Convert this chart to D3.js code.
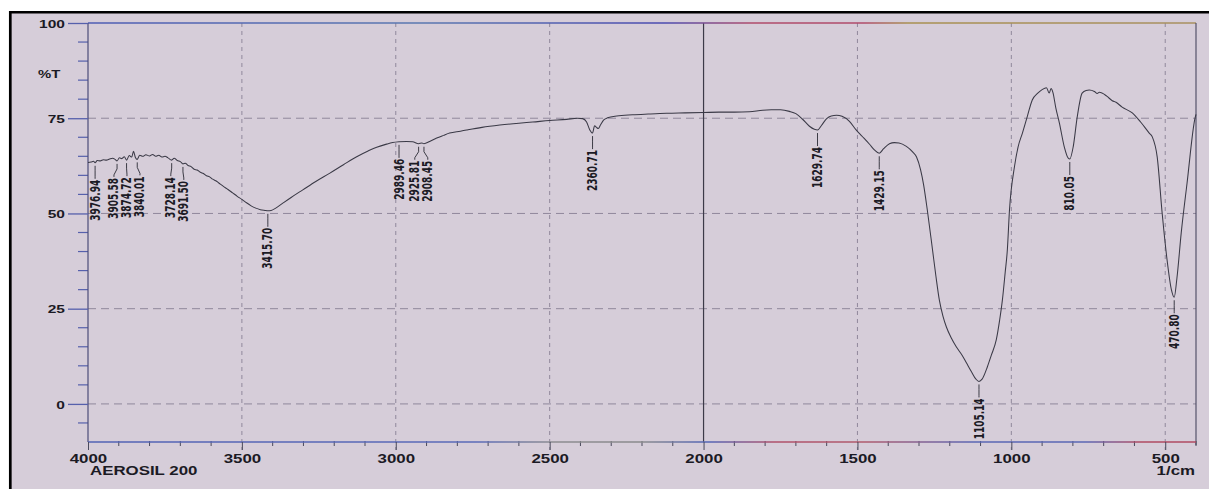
<!DOCTYPE html>
<html>
<head>
<meta charset="utf-8">
<script src="https://cdn.jsdelivr.net/npm/d3@7"></script>
<style>
  html, body { margin: 0; padding: 0; background: #ffffff; }
  svg { display: block; }
</style>
</head>
<body>
<svg id="chart" width="1209" height="489"></svg>
<script>
// FTIR spectrum of AEROSIL 200 (%T vs wavenumber, 1/cm)
const wavenumbers = [
  4000, 3990, 3982, 3976.94, 3970, 3960, 3950, 3940, 3930, 3920, 3912, 3905.58,
  3898, 3890, 3882, 3874.72, 3866, 3858, 3852, 3846, 3840.01, 3832, 3822, 3812,
  3800, 3790, 3780, 3770, 3760, 3750, 3740, 3728.14, 3720, 3710, 3700, 3691.5,
  3684, 3675, 3665, 3655, 3645, 3635, 3625, 3615, 3605, 3595, 3585, 3575,
  3560, 3545, 3530, 3515, 3500, 3485, 3470, 3455, 3440, 3425, 3415.7, 3405,
  3390, 3367, 3340, 3302, 3260, 3214, 3170, 3127, 3090, 3062, 3030, 3010,
  2989.46, 2965, 2945, 2925.81, 2915, 2908.45, 2890, 2867, 2845, 2825, 2790, 2770,
  2720, 2662, 2600, 2555, 2500, 2445, 2410, 2393, 2380, 2370, 2360.71, 2354,
  2348, 2342, 2335, 2325, 2312, 2282, 2231, 2180, 2120, 2060, 2000, 1950,
  1900, 1851, 1808, 1780, 1750, 1721, 1700, 1679, 1656, 1640, 1629.74, 1617,
  1600, 1585, 1568, 1550, 1526, 1505, 1484, 1460, 1445, 1429.15, 1415, 1396,
  1380, 1365, 1341, 1320, 1308, 1295, 1285, 1273, 1256, 1245, 1234, 1222,
  1211, 1195, 1179, 1160, 1146, 1130, 1115, 1105.14, 1095, 1078, 1065, 1049,
  1038, 1029, 1020, 1013, 1006, 990, 978, 964, 948, 932, 915, 900,
  886, 877, 871, 865, 855, 844, 828, 815, 810.05, 799, 786, 770,
  757, 747, 730, 721, 714, 690, 672, 660, 640, 607, 580, 552,
  542, 526, 510, 494, 480, 470.8, 462, 448, 429, 403, 400
];
const transmittance = [
  63.4, 63.5, 63.7, 63.3, 63.9, 63.8, 64.1, 64.0, 64.3, 64.5, 64.2, 63.8,
  64.6, 64.4, 64.9, 64.0, 65.2, 64.8, 66.3, 64.7, 64.2, 65.3, 65.0, 65.4,
  65.1, 65.5, 65.0, 65.3, 64.8, 65.0, 64.6, 64.0, 64.5, 63.9, 63.6, 63.0,
  63.2, 62.6, 62.3, 61.6, 61.4, 60.8, 60.5, 59.9, 59.6, 59.0, 58.6, 58.0,
  57.1, 56.3, 55.4, 54.5, 53.7, 52.8, 52.0, 51.4, 51.0, 50.8, 50.7, 50.8,
  51.4, 52.7, 54.2, 56.2, 58.4, 60.6, 62.8, 64.9, 66.4, 67.4, 68.2, 68.6,
  68.8, 68.9, 68.8, 68.3, 68.5, 68.3, 68.9, 69.8, 70.5, 71.1, 71.6, 71.9,
  72.6, 73.2, 73.7, 74.0, 74.4, 74.7, 75.0, 74.9, 74.0, 72.0, 71.1, 73.0,
  72.6, 72.3, 73.2, 74.5, 75.1, 75.6, 75.9, 76.1, 76.3, 76.4, 76.5, 76.6,
  76.6, 76.7, 77.1, 77.2, 77.2, 76.8, 76.2, 74.8, 72.9, 72.1, 71.9, 73.1,
  74.9, 75.6, 75.8, 75.5, 74.2, 72.0, 70.2, 68.1, 66.7, 65.8, 67.0, 68.3,
  68.6, 68.5, 67.6, 66.1, 64.8, 61.5, 57.5, 50.9, 40.4, 33.5, 27.3, 23.0,
  20.2, 17.3, 15.0, 12.8, 10.8, 8.5, 6.5, 5.9, 6.5, 9.7, 12.8, 16.8,
  22.0, 27.3, 34.5, 40.4, 50.9, 62.2, 67.5, 71.1, 75.5, 79.8, 81.5, 82.5,
  83.0, 81.6, 82.8, 81.8, 77.5, 73.8, 67.5, 64.5, 64.3, 67.5, 75.3, 81.6,
  82.3, 82.4, 82.0, 81.5, 81.8, 80.8, 79.6, 79.2, 77.9, 76.4, 74.0, 71.1,
  70.1, 64.8, 50.1, 37.8, 30.0, 28.0, 33.0, 44.9, 58.0, 75.1, 76.0
];

// Peak-pick annotations (wavenumbers, 1/cm)
const peakWavenumbers = [
  3976.94, 3905.58, 3874.72, 3840.01, 3728.14, 3691.50, 3415.70,
  2989.46, 2925.81, 2908.45, 2360.71, 1629.74, 1429.15, 1105.14, 810.05, 470.80
];

const xTickValues = [4000, 3500, 3000, 2500, 2000, 1500, 1000, 500];
const yTickValues = [100, 75, 50, 25, 0];
const sampleName = "AEROSIL 200";
const xUnitLabel = "1/cm";
const yUnitLabel = "%T";

(function draw() {
  const W = 1209, H = 489;
  const plotL = 88, plotR = 1196, plotT = 23, plotB = 442;
  const stretch = 1.35;               // wide printer glyphs
  const paper = "#d6cdd9";
  const ink = "#1b1a24";

  const svg = d3.select("#chart");
  const defs = svg.append("defs");

  // multicolour printer strokes for the frame lines
  function gradient(id, stops) {
    const g = defs.append("linearGradient").attr("id", id)
      .attr("gradientUnits", "userSpaceOnUse")
      .attr("x1", plotL).attr("x2", plotR).attr("y1", 0).attr("y2", 0);
    stops.forEach(([o, c]) => g.append("stop").attr("offset", o).attr("stop-color", c));
  }
  gradient("axisGrad", [[0, "#5262b4"], [0.35, "#5a6ab8"], [0.42, "#8c8c90"], [0.5, "#8a8a8c"],
    [0.56, "#5264b6"], [0.62, "#b0506a"], [0.7, "#b05a6c"], [0.8, "#5a66b4"], [0.9, "#5a66b4"], [0.95, "#b04a62"], [1, "#b04a62"]]);
  gradient("topGrad", [[0, "#4e5cb4"], [0.3, "#5a78b0"], [0.52, "#4a4ab0"], [0.6, "#b04a6a"], [0.7, "#b04a6a"], [0.74, "#a89050"], [1, "#a89060"]]);

  // paper and outer frame
  svg.append("rect").attr("x", 11).attr("y", 13).attr("width", W - 11).attr("height", H - 13).attr("fill", paper);
  svg.append("line").attr("x1", 9).attr("x2", W).attr("y1", 12.2).attr("y2", 12.2)
    .attr("stroke", "#000").attr("stroke-width", 2.6);
  svg.append("line").attr("x1", 10.3).attr("x2", 10.3).attr("y1", 11).attr("y2", H)
    .attr("stroke", "#000").attr("stroke-width", 2.7);

  const x = d3.scaleLinear().domain([4000, 400]).range([plotL, plotR]);
  const y = d3.scaleLinear().domain([-10, 100]).range([plotB, plotT]);

  // grid
  const grid = svg.append("g");
  grid.selectAll("line.h").data(yTickValues.filter(v => v !== 100)).join("line")
    .attr("x1", plotL).attr("x2", plotR).attr("y1", d => y(d)).attr("y2", d => y(d))
    .attr("stroke", "#857d92").attr("stroke-width", 1).attr("stroke-dasharray", "8,5").attr("opacity", 0.85);
  grid.selectAll("line.v").data(xTickValues.filter(v => v !== 4000 && v !== 2000)).join("line")
    .attr("x1", d => x(d)).attr("x2", d => x(d)).attr("y1", plotT).attr("y2", plotB + 8)
    .attr("stroke", "#857d92").attr("stroke-width", 1).attr("stroke-dasharray", "4,4").attr("opacity", 0.85);
  grid.append("line").attr("x1", x(2000)).attr("x2", x(2000)).attr("y1", plotT).attr("y2", plotB)
    .attr("stroke", "#3c3a48").attr("stroke-width", 1.2);

  // plot box: top and right edges
  svg.append("line").attr("x1", plotL).attr("x2", plotR).attr("y1", plotT).attr("y2", plotT)
    .attr("stroke", "url(#topGrad)").attr("stroke-width", 1.3);
  svg.append("line").attr("x1", plotR).attr("x2", plotR).attr("y1", plotT).attr("y2", plotB + 3)
    .attr("stroke", "#4a4860").attr("stroke-width", 1.1);

  // minor ticks
  const minorY = d3.range(-5, 101, 5).filter(v => !yTickValues.includes(v));
  svg.append("g").selectAll("line").data(minorY).join("line")
    .attr("x1", plotL - 10).attr("x2", plotL).attr("y1", d => y(d)).attr("y2", d => y(d))
    .attr("stroke", "#5660ac").attr("stroke-width", 1.2);
  const minorX = d3.range(4000, 399, -100).filter(v => !xTickValues.includes(v));
  svg.append("g").selectAll("line").data(minorX).join("line")
    .attr("x1", d => x(d)).attr("x2", d => x(d)).attr("y1", plotB - 1).attr("y2", plotB + 4)
    .attr("stroke", "#4a4a5c").attr("stroke-width", 1);

  // axes
  const yAxis = svg.append("g").attr("transform", `translate(${plotL},0)`)
    .call(d3.axisLeft(y).tickValues(yTickValues).tickFormat(d3.format("d"))
      .tickSize(20).tickPadding(4).tickSizeOuter(0));
  yAxis.select(".domain").attr("stroke", "#4c4c78").attr("stroke-width", 1.2)
    .attr("d", `M0,${plotT}V${plotB}`);
  yAxis.selectAll(".tick line").attr("stroke", "#5660ac").attr("stroke-width", 1.3);
  yAxis.selectAll(".tick text")
    .attr("x", null).attr("dy", null)
    .attr("transform", `translate(-23,4.2) scale(${stretch},1)`)
    .attr("font-family", "'Liberation Sans', Arial, sans-serif")
    .attr("font-weight", "bold").attr("font-size", 11.5).attr("fill", ink);

  const xAxis = svg.append("g").attr("transform", `translate(0,${plotB})`)
    .call(d3.axisBottom(x).tickValues(xTickValues).tickFormat(d3.format("d"))
      .tickSize(8).tickPadding(4).tickSizeOuter(0));
  xAxis.select(".domain").attr("stroke", "url(#axisGrad)").attr("stroke-width", 1.3)
    .attr("d", `M${plotL},0H${plotR}`);
  xAxis.selectAll(".tick line").attr("stroke", "#4a4a5c").attr("stroke-width", 1);
  xAxis.selectAll(".tick text")
    .attr("y", null).attr("dy", null)
    .attr("transform", `translate(0,21) scale(${stretch},1)`)
    .attr("font-family", "'Liberation Sans', Arial, sans-serif")
    .attr("font-weight", "bold").attr("font-size", 12.5).attr("fill", ink);

  // axis captions
  function caption(text, px, py, size, anchor) {
    svg.append("text").text(text)
      .attr("transform", `translate(${px},${py}) scale(${stretch},1)`)
      .attr("text-anchor", anchor)
      .attr("font-family", "'Liberation Sans', Arial, sans-serif")
      .attr("font-weight", "bold").attr("font-size", size).attr("fill", ink);
  }
  caption(yUnitLabel, 38, 77.5, 11, "start");
  caption(sampleName, 90, 475, 12.5, "start");
  caption(xUnitLabel, 1195, 475, 12.5, "end");

  // spectrum trace
  const pts = wavenumbers.map((w, i) => [w, transmittance[i]]);
  svg.append("path").datum(pts)
    .attr("fill", "none").attr("stroke", "#3a3946").attr("stroke-width", 1.05)
    .attr("stroke-linejoin", "round")
    .attr("d", d3.line().x(d => x(d[0])).y(d => y(d[1])).curve(d3.curveMonotoneX));

  // peak annotations
  const asc = pts.slice().reverse();
  const bis = d3.bisector(d => d[0]).left;
  function valueAt(w) {
    const i = bis(asc, w);
    if (i <= 0) return asc[0][1];
    if (i >= asc.length) return asc[asc.length - 1][1];
    const a = asc[i - 1], b = asc[i];
    return a[1] + (b[1] - a[1]) * (w - a[0]) / (b[0] - a[0]);
  }
  const peaks = peakWavenumbers.map(w => ({ w, px: x(w), py: y(valueAt(w)) }))
    .sort((a, b) => a.px - b.px);
  peaks.forEach(p => p.lx = p.px);
  // keep neighbouring labels apart
  const gapMin = 13;
  for (let k = 0; k < 60; k++) {
    for (let i = 1; i < peaks.length; i++) {
      const d = peaks[i].lx - peaks[i - 1].lx;
      if (d < gapMin) {
        const s = (gapMin - d) / 2;
        peaks[i].lx += s; peaks[i - 1].lx -= s;
      }
    }
  }
  const ann = svg.append("g");
  peaks.forEach(p => {
    const y0 = p.py + 3, y1 = p.py + 8, y2 = p.py + 16;
    ann.append("path")
      .attr("d", `M${p.px},${y0}V${y1}L${p.lx},${y2 - 2}V${y2}`)
      .attr("fill", "none").attr("stroke", "#2a2a34").attr("stroke-width", 0.9);
    ann.append("text").text(p.w.toFixed(2))
      .attr("transform", `translate(${p.lx},${y2 + 1}) scale(${stretch},1) rotate(-90)`)
      .attr("text-anchor", "end").attr("dominant-baseline", "central")
      .attr("font-family", "'Liberation Sans Narrow', 'Arial Narrow', 'DejaVu Sans Condensed', sans-serif")
      .attr("font-weight", "bold").attr("font-size", 10).attr("fill", ink);
  });
})();
</script>
</body>
</html>
